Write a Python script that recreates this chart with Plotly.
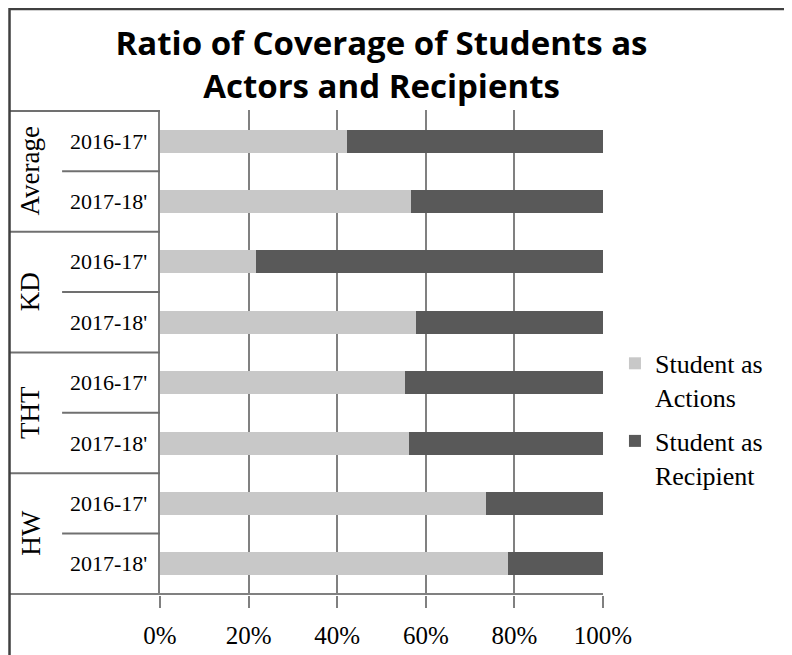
import plotly.graph_objects as go

# data
groups = ["Average", "KD", "THT", "HW"]
years = ["2016-17'", "2017-18'"]
actions = [42.3, 56.7, 21.6, 57.8, 55.2, 56.2, 73.7, 78.5]
recipient = [57.7, 43.3, 78.4, 42.2, 44.8, 43.8, 26.3, 21.5]
x_ticks = [0, 20, 40, 60, 80, 100]

# one category per bar, top to bottom
cats = [f"{g} {y}" for g in groups for y in years]

serif = "Liberation Serif"
grid_col = "#808080"
frame_left = -0.3397

fig = go.Figure()

add_bar = lambda vals, name, color: fig.add_trace(
    go.Bar(
        x=vals,
        y=cats,
        orientation="h",
        name=name,
        legendgroup=name,
        marker=dict(color=color, line=dict(width=0)),
    )
)
add_bar(actions, "Student as<br>Actions", "#C8C8C8")
add_bar(recipient, "Student as<br>Recipient", "#595959")

shapes = []
annotations = []

# group boxes on the left: separators, year labels, rotated group labels
n_years = len(years)
for gi, g in enumerate(groups):
    top = gi * n_years - 0.5
    shapes.append(dict(type="line", xref="paper", yref="y", x0=frame_left, x1=0,
                       y0=top, y1=top, line=dict(color="#707070", width=2)))
    for yi in range(1, n_years):
        pos = gi * n_years + yi - 0.5
        shapes.append(dict(type="line", xref="paper", yref="y", x0=-0.221, x1=0,
                           y0=pos, y1=pos, line=dict(color="#707070", width=2)))
    for yi, yr in enumerate(years):
        annotations.append(dict(text=yr, xref="paper", yref="y", x=-0.025,
                                y=gi * n_years + yi, xanchor="right", yanchor="middle",
                                showarrow=False, font=dict(family=serif, size=22, color="#000")))
    annotations.append(dict(text=g, xref="paper", yref="y", x=-0.293,
                            y=gi * n_years + (n_years - 1) / 2, textangle=-90,
                            xanchor="center", yanchor="middle", showarrow=False,
                            font=dict(family=serif, size=27, color="#000")))

# bottom line running under the table and the plot
bottom = len(cats) - 0.5
shapes.append(dict(type="line", xref="paper", yref="y", x0=frame_left, x1=1,
                   y0=bottom, y1=bottom, line=dict(color=grid_col, width=2)))

# outer frame
shapes.append(dict(type="rect", xref="paper", yref="paper", x0=frame_left, x1=2,
                   y0=-1, y1=1.2082, line=dict(color="#404040", width=2.5)))

fig.update_layout(
    width=792,
    height=655,
    margin=dict(l=152, r=197, t=102, b=68),
    barmode="stack",
    bargap=0.62,
    paper_bgcolor="white",
    plot_bgcolor="white",
    title=dict(
        text="<b>Ratio of Coverage of Students as<br>Actors and Recipients</b>",
        font=dict(family="Open Sans", size=33, color="#000"),
        x=0.5, xref="paper", xanchor="center",
        y=0.928, yref="container", yanchor="middle",
    ),
    xaxis=dict(
        range=[0, 100],
        tickvals=x_ticks,
        ticktext=[f"{t}%" for t in x_ticks],
        showgrid=True,
        gridcolor=grid_col,
        gridwidth=2,
        zeroline=False,
        ticks="outside",
        ticklen=12,
        tickwidth=2,
        tickcolor=grid_col,
        ticklabelstandoff=6,
        tickfont=dict(family=serif, size=25, color="#000"),
        showline=False,
        fixedrange=True,
    ),
    yaxis=dict(
        categoryorder="array",
        categoryarray=cats,
        autorange="reversed",
        showticklabels=False,
        showgrid=False,
        zeroline=False,
        showline=True,
        linecolor=grid_col,
        linewidth=2,
        ticks="",
        fixedrange=True,
    ),
    legend=dict(
        x=1.027, y=0.526, xanchor="left", yanchor="top",
        valign="top",
        traceorder="grouped",
        font=dict(family=serif, size=26, color="#000"),
        tracegroupgap=7,
        bgcolor="rgba(0,0,0,0)",
    ),
    shapes=shapes,
    annotations=annotations,
    showlegend=True,
)

fig.write_html("out.html")
